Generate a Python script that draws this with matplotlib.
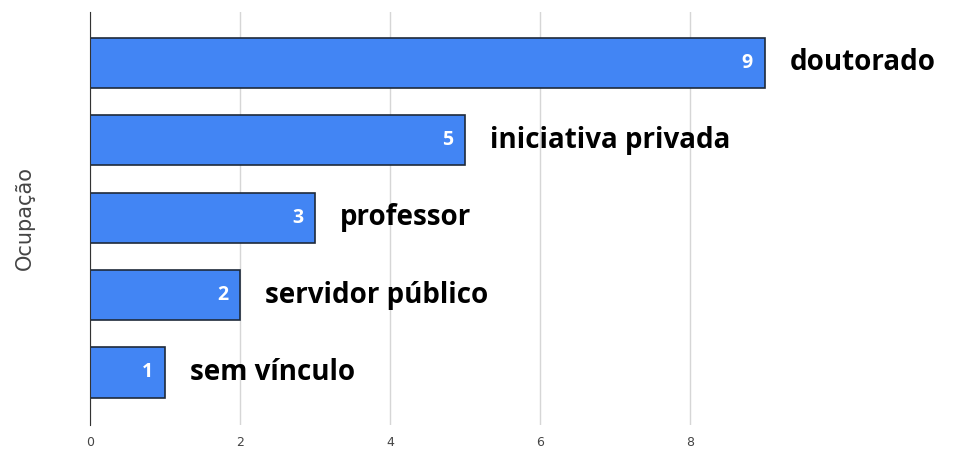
import matplotlib.pyplot as plt

categorias = ['doutorado', 'iniciativa privada', 'professor', 'servidor público', 'sem vínculo']
valores = [9, 5, 3, 2, 1]

fig = plt.figure(figsize=(9.61, 4.59), dpi=100)
ax = fig.add_axes([0.0937, 0.074, 0.897, 0.90])

pos = list(range(len(categorias)))
ax.barh(pos, valores, height=0.65, color='#4285f4', edgecolor='#1f2a3a', linewidth=1.2, zorder=3)

for p, v, c in zip(pos, valores, categorias):
    ax.annotate(str(v), (v, p), xytext=(-12.5, 0), textcoords='offset points',
                ha='center', va='center', color='white', fontsize=14,
                fontweight='bold', family='Open Sans', zorder=4)
    ax.annotate(c, (v, p), xytext=(18, 0), textcoords='offset points',
                ha='left', va='center', color='black', fontsize=20,
                fontweight='bold', family='Open Sans', zorder=4)

ax.set_xlim(0, 11.5)
ax.set_ylim(4.68, -0.66)
ax.set_xticks([0, 2, 4, 6, 8])
ax.set_yticks([])
ax.tick_params(axis='x', length=0, labelsize=9, colors='#444444', pad=8)
ax.grid(axis='x', color='#d6d6d6', linewidth=1, zorder=0)
for s in ['top', 'right', 'bottom']:
    ax.spines[s].set_visible(False)
ax.spines['left'].set_color('#333333')
ax.spines['left'].set_zorder(5)
ax.set_ylabel('Ocupação', fontsize=15, color='#444444', labelpad=40)

plt.savefig('out.png', dpi=100)
